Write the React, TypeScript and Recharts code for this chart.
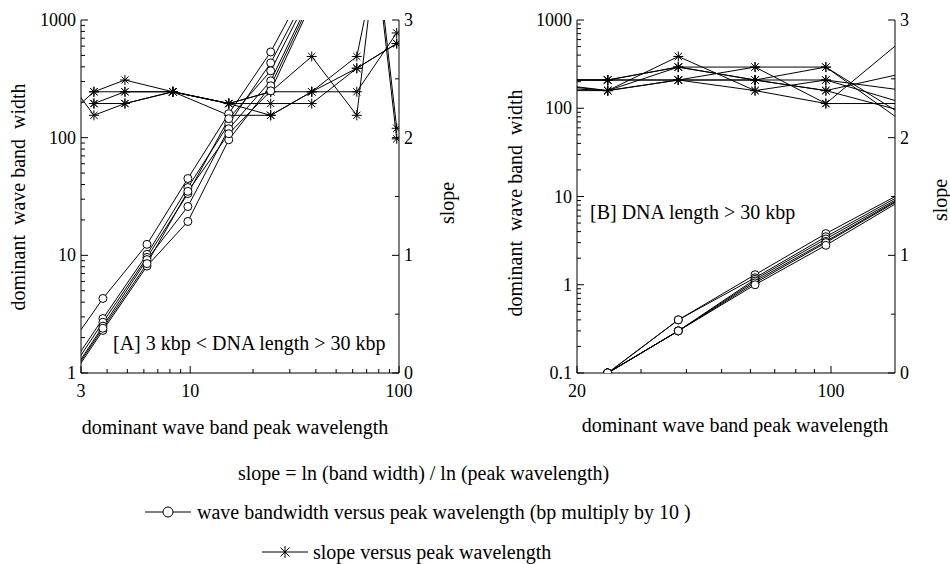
import { Line, LineChart, XAxis, YAxis } from "recharts";

const FONT = '"Liberation Serif", Tinos, "DejaVu Serif", "Times New Roman", serif';

// panel A: 3 kbp < DNA length > 30 kbp
const aCircleX = [2.5, 3.82, 6.21, 9.75, 15.3, 24.3, 38.2];
const aCircle1 = [1.47, 4.3, 12.4, 45, 160, 535, 2400];
const aCircle2 = [0.95, 2.9, 10.2, 37.7, 131, 432, 2000];
const aCircle3 = [0.87, 2.7, 9.6, 33.5, 145, 370, 1800];
const aCircle4 = [0.8, 2.5, 9.2, 26, 119, 304, 1600];
const aCircle5 = [0.75, 2.3, 8.1, 19.4, 96, 276, 1500];
const aCircle6 = [0.78, 2.4, 8.5, 35, 108, 250, 1400];

const aStarX = [2.7, 3.46, 4.87, 8.26, 15.3, 24.3, 38.2, 62.8, 78, 97.5];
const aStar1 = [2.45, 2.19, 2.29, 2.39, 2.29, 2.39, 2.69, 2.19, 3.6, 2.08];
const aStar2 = [2.22, 2.39, 2.49, 2.39, 2.29, 2.19, 2.39, 2.69, 3.5, 1.99];
const aStar3 = [null, 2.39, 2.39, 2.39, 2.29, 2.29, 2.29, 2.59, null, 2.8];
const aStar4 = [null, 2.29, 2.29, 2.39, 2.29, 2.39, 2.39, 2.39, null, 2.89];
const aStar5 = [null, 2.29, 2.39, 2.39, 2.19, 2.19, 2.39, 2.59, null, 2.8];

// panel B: DNA length > 30 kbp
const bCircleX = [24.3, 38, 61.8, 96.8, 160];
const bCircle1 = [0.1, 0.4, 1.3, 3.8, 11.5];
const bCircle2 = [0.1, 0.4, 1.2, 3.5, 11];
const bCircle3 = [0.1, 0.3, 1.15, 3.3, 10.5];
const bCircle4 = [0.1, 0.3, 1.1, 3.1, 10.2];
const bCircle5 = [0.1, 0.3, 1.05, 3.0, 10];
const bCircle6 = [0.1, 0.3, 1.0, 2.8, 9.6];

const bStarX = [18, 24.3, 38, 61.8, 96.8, 160];
const bStar1 = [2.49, 2.49, 2.6, 2.6, 2.6, 2.12];
const bStar2 = [2.49, 2.49, 2.49, 2.49, 2.49, 2.29];
const bStar3 = [2.42, 2.4, 2.69, 2.4, 2.29, 2.85];
const bStar4 = [2.45, 2.4, 2.6, 2.49, 2.4, 2.22];
const bStar5 = [2.4, 2.4, 2.49, 2.6, 2.29, 2.29];
const bStar6 = [2.49, 2.49, 2.49, 2.4, 2.49, 2.4];
const bStar7 = [2.44, 2.4, 2.49, 2.49, 2.6, 2.18];
const bStar8 = [2.49, 2.49, 2.6, 2.49, 2.4, 2.55];

// ticks
const aXTicks = [3, 4, 5, 6, 7, 8, 9, 10, 20, 30, 40, 50, 60, 70, 80, 90, 100];
const aXMajor = [3, 10, 100];
const aYTicks = [1, 2, 3, 4, 5, 6, 7, 8, 9, 10, 20, 30, 40, 50, 60, 70, 80, 90, 100, 200, 300, 400, 500, 600, 700, 800, 900, 1000];
const aYMajor = [1, 10, 100, 1000];
const bXTicks = [20, 30, 40, 50, 60, 70, 80, 90, 100];
const bXMajor = [20, 100];
const bYTicks = [0.1, 0.2, 0.3, 0.4, 0.5, 0.6, 0.7, 0.8, 0.9, ...aYTicks];
const bYMajor = [0.1, 1, 10, 100, 1000];
const slopeTicks = [0, 0.5, 1, 1.5, 2, 2.5, 3];
const slopeMajor = [0, 1, 2, 3];

const pts = (xs: number[], ys: (number | null)[]) => xs.map((x, i) => ({ x, y: ys[i] }));

type Side = "left" | "right" | "bottom" | "top";

function makeTick(side: Side, majors: number[], labels: boolean) {
  return (props: any) => {
    const { x, y, payload, index } = props;
    const v = payload.value;
    const major = majors.indexOf(v) >= 0;
    const len = major ? 7 : 4;
    const txt = labels && major ? String(v) : "";
    const ts = { fontFamily: FONT, fontSize: 18, fill: "#000" };
    let l = null;
    let t = null;
    if (side === "left") {
      l = <line x1={x} y1={y} x2={x + len} y2={y} stroke="#000" />;
      t = <text x={x - 5} y={y + 6} textAnchor="end" style={ts}>{txt}</text>;
    } else if (side === "right") {
      l = <line x1={x} y1={y} x2={x - len} y2={y} stroke="#000" />;
      t = <text x={x + 5} y={y + 6} textAnchor="start" style={ts}>{txt}</text>;
    } else if (side === "bottom") {
      l = <line x1={x} y1={y} x2={x} y2={y - len} stroke="#000" />;
      t = <text x={x} y={y + 24} textAnchor="middle" style={ts}>{txt}</text>;
    } else {
      l = <line x1={x} y1={y} x2={x} y2={y + len} stroke="#000" />;
    }
    return (
      <g key={`tk-${side}-${index}`}>
        {l}
        {txt ? t : null}
      </g>
    );
  };
}

const renderCircle = (p: any) => {
  if (p.cx == null || p.cy == null || Number.isNaN(p.cx) || Number.isNaN(p.cy)) return <g key={`c-${p.index}`} />;
  return <circle key={`c-${p.index}`} cx={p.cx} cy={p.cy} r={4} fill="#fff" stroke="#000" strokeWidth={1} />;
};

const renderStar = (p: any) => {
  if (p.cx == null || p.cy == null || Number.isNaN(p.cx) || Number.isNaN(p.cy)) return <g key={`s-${p.index}`} />;
  const r = 5;
  const d = r * 0.72;
  const { cx, cy } = p;
  return (
    <g key={`s-${p.index}`} stroke="#000" strokeWidth={1}>
      <line x1={cx - r} y1={cy} x2={cx + r} y2={cy} />
      <line x1={cx} y1={cy - r} x2={cx} y2={cy + r} />
      <line x1={cx - d} y1={cy - d} x2={cx + d} y2={cy + d} />
      <line x1={cx - d} y1={cy + d} x2={cx + d} y2={cy - d} />
    </g>
  );
};

const axisLine = { stroke: "#000", strokeWidth: 1 };

interface PanelProps {
  width: number;
  left: number;
  leftAxisWidth: number;
  marginRight: number;
  xDomain: [number, number];
  yDomain: [number, number];
  xTicks: number[];
  xMajor: number[];
  yTicks: number[];
  yMajor: number[];
  circles: { x: number; y: number | null }[][];
  stars: { x: number; y: number | null }[][];
}

function Panel(p: PanelProps) {
  return (
    <div style={{ position: "absolute", left: p.left, top: 0 }}>
      <LineChart width={p.width} height={400} margin={{ top: 20, right: p.marginRight, bottom: 0, left: 0 }}>
        <XAxis
          xAxisId="b"
          dataKey="x"
          type="number"
          scale="log"
          domain={p.xDomain}
          allowDataOverflow
          ticks={p.xTicks}
          interval={0}
          height={27}
          tickSize={0}
          tickMargin={0}
          tickLine={false}
          axisLine={axisLine}
          tick={makeTick("bottom", p.xMajor, true)}
        />
        <XAxis
          xAxisId="t"
          orientation="top"
          dataKey="x"
          type="number"
          scale="log"
          domain={p.xDomain}
          allowDataOverflow
          ticks={p.xTicks}
          interval={0}
          height={0}
          tickSize={0}
          tickMargin={0}
          tickLine={false}
          axisLine={axisLine}
          tick={makeTick("top", p.xMajor, false)}
        />
        <YAxis
          yAxisId="l"
          type="number"
          scale="log"
          domain={p.yDomain}
          allowDataOverflow
          ticks={p.yTicks}
          interval={0}
          width={p.leftAxisWidth}
          tickSize={0}
          tickMargin={0}
          tickLine={false}
          axisLine={axisLine}
          tick={makeTick("left", p.yMajor, true)}
        />
        <YAxis
          yAxisId="r"
          orientation="right"
          type="number"
          domain={[0, 3]}
          allowDataOverflow
          ticks={slopeTicks}
          interval={0}
          width={40}
          tickSize={0}
          tickMargin={0}
          tickLine={false}
          axisLine={axisLine}
          tick={makeTick("right", slopeMajor, true)}
        />
        {p.stars.map((d, i) => (
          <Line
            key={`star-${i}`}
            data={d}
            xAxisId="b"
            yAxisId="r"
            dataKey="y"
            stroke="#000"
            strokeWidth={1}
            connectNulls
            dot={renderStar}
            activeDot={false}
            isAnimationActive={false}
          />
        ))}
        {p.circles.map((d, i) => (
          <Line
            key={`circle-${i}`}
            data={d}
            xAxisId="b"
            yAxisId="l"
            dataKey="y"
            stroke="#000"
            strokeWidth={1}
            dot={renderCircle}
            activeDot={false}
            isAnimationActive={false}
          />
        ))}
      </LineChart>
    </div>
  );
}

const txt = { position: "absolute" as const, fontFamily: FONT, fontSize: 20, color: "#000", whiteSpace: "pre" as const, lineHeight: "20px" };
const vert = (cx: number, cy: number) => ({
  ...txt,
  left: cx,
  top: cy,
  transform: "translate(-50%, -50%) rotate(-90deg)",
});
const horiz = (cx: number, cy: number) => ({ ...txt, left: cx, top: cy, transform: "translate(-50%, -50%)" });
const leftAt = (x: number, cy: number) => ({ ...txt, left: x, top: cy, transform: "translateY(-50%)" });

export default function App() {
  return (
    <div style={{ position: "absolute", left: 0, top: 0, width: 950, height: 564, background: "#fff", overflow: "hidden", fontFamily: FONT }}>
      <Panel
        width={480}
        left={0}
        leftAxisWidth={81}
        marginRight={41}
        xDomain={[3, 100]}
        yDomain={[1, 1000]}
        xTicks={aXTicks}
        xMajor={aXMajor}
        yTicks={aYTicks}
        yMajor={aYMajor}
        circles={[aCircle1, aCircle2, aCircle3, aCircle4, aCircle5, aCircle6].map((c) => pts(aCircleX, c))}
        stars={[aStar1, aStar2, aStar3, aStar4, aStar5].map((s) => pts(aStarX, s))}
      />
      <Panel
        width={470}
        left={480}
        leftAxisWidth={97}
        marginRight={15}
        xDomain={[20, 150]}
        yDomain={[0.1, 1000]}
        xTicks={bXTicks}
        xMajor={bXMajor}
        yTicks={bYTicks}
        yMajor={bYMajor}
        circles={[bCircle1, bCircle2, bCircle3, bCircle4, bCircle5, bCircle6].map((c) => pts(bCircleX, c))}
        stars={[bStar1, bStar2, bStar3, bStar4, bStar5, bStar6, bStar7, bStar8].map((s) => pts(bStarX, s))}
      />

      <div style={vert(18, 197)}>{"dominant  wave band  width"}</div>
      <div style={vert(447, 203)}>slope</div>
      <div style={horiz(235, 427)}>dominant wave band peak wavelength</div>
      <div style={leftAt(113, 343)}>{"[A] 3 kbp < DNA length > 30 kbp"}</div>

      <div style={vert(515, 203)}>{"dominant  wave band  width"}</div>
      <div style={vert(940, 200)}>slope</div>
      <div style={horiz(735, 425)}>dominant wave band peak wavelength</div>
      <div style={leftAt(590, 212)}>{"[B] DNA length > 30 kbp"}</div>

      <div style={leftAt(238, 473)}>slope = ln (band width) / ln (peak wavelength)</div>
      <svg style={{ position: "absolute", left: 145, top: 502 }} width={46} height={20}>
        <line x1={0} y1={10} x2={46} y2={10} stroke="#000" />
        <circle cx={23} cy={10} r={5} fill="#fff" stroke="#000" />
      </svg>
      <div style={leftAt(197, 512)}>wave bandwidth versus peak wavelength (bp multiply by 10 )</div>
      <svg style={{ position: "absolute", left: 262, top: 542 }} width={46} height={20}>
        <line x1={0} y1={10} x2={46} y2={10} stroke="#000" />
        <line x1={23} y1={4} x2={23} y2={16} stroke="#000" />
        <line x1={18.5} y1={5.5} x2={27.5} y2={14.5} stroke="#000" />
        <line x1={18.5} y1={14.5} x2={27.5} y2={5.5} stroke="#000" />
      </svg>
      <div style={leftAt(313, 552)}>slope versus peak wavelength</div>
    </div>
  );
}
